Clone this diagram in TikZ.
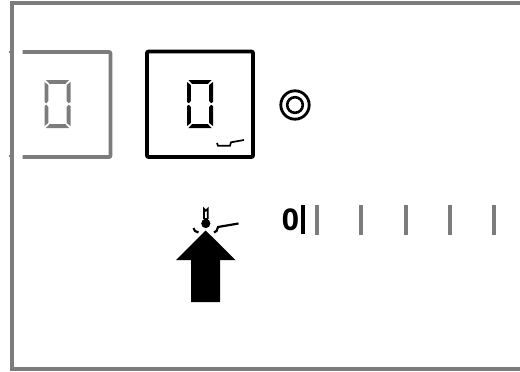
\documentclass[tikz,border=0pt]{standalone}
\usepackage{fontspec}
\setmainfont{Open Sans}
\definecolor{fg}{HTML}{7C7C7C}
\tikzset{
  x=1pt,y=-1pt,
  seg/.style={fill=#1,draw=none},
  framelines/.style={draw=fg,line width=3.6pt},
  tick/.style={draw=fg,line width=3.6pt},
  digitbox/.style={line width=3.6pt,rounded corners=1pt,line join=round},
  pics/sevenzero/.style={code={
    % top and bottom
    \fill[seg=#1] (1.5,0) -- (24.5,0) -- (21,3.8) -- (5,3.8) -- cycle;
    \fill[seg=#1] (1.5,48) -- (24.5,48) -- (21,44.2) -- (5,44.2) -- cycle;
    % left pair
    \fill[seg=#1] (0,2) -- (3.8,5) -- (3.8,21) -- (1.9,23.2) -- (0,22) -- cycle;
    \fill[seg=#1] (0,26) -- (1.9,24.8) -- (3.8,27) -- (3.8,43) -- (0,46) -- cycle;
    % right pair
    \fill[seg=#1] (26,2) -- (22.2,5) -- (22.2,21) -- (24.1,23.2) -- (26,22) -- cycle;
    \fill[seg=#1] (26,26) -- (24.1,24.8) -- (22.2,27) -- (22.2,43) -- (26,46) -- cycle;
  }}
}
\begin{document}
\begin{tikzpicture}
\useasboundingbox (0,0) rectangle (520,372);
\fill[white] (0,0) rectangle (520,372);
% outer frame
\draw[framelines] (520,3.2) -- (12,3.2) -- (12,369) -- (520,369);
\draw[draw=fg,line width=2.4pt] (9,52) -- (12,52) (9,156) -- (12,156);
% gray box
\draw[fg,digitbox] (22.5,52) -- (110.5,52) -- (110.5,157) -- (22.5,157);
\pic at (44.5,80) {sevenzero=fg};
% black box
\draw[black,digitbox] (147,51.5) rectangle (253,157);
\pic at (187,80) {sevenzero=black};
% small symbol in box
\draw[black,line width=1.7pt] (217,143) -- (218,145.7) -- (230,145.7) -- (231,142.3) -- (244,140);
% target ring
\draw[black,line width=2.8pt] (295,105) circle (14.2);
\draw[black,line width=2.6pt] (295,105) circle (7.8);
% thermometer symbol
\draw[black,line width=1.7pt,fill=white] (203.9,219) -- (203.9,208.8) arc[start angle=180,end angle=0,radius=1.9] -- (207.7,219);
\fill[black] (205.8,223.5) circle (4.6);
\fill[black] (203.5,218) rectangle (208.1,222);
\draw[black,line width=2.2pt] (193.5,228) .. controls (193.8,230.5) and (195.5,232) .. (198.5,232.5);
\draw[black,line width=2.2pt] (214,232.5) .. controls (216.5,232) and (217.5,230) .. (218,227) -- (238.5,223.5);
% arrow
\fill[black] (205.7,230.5) -- (235.5,260) -- (220,260) -- (220,302) -- (191,302) -- (191,260) -- (176,260) -- cycle;
% scale
\node[font=\fontsize{30}{30}\selectfont\bfseries,anchor=center,inner sep=0pt] (zero) at (290.5,220) {0};
\draw[black,line width=3.8pt] (303,205.3) -- (303,233.5);
\foreach \x/\n in {317/a,361/b,405.7/c,450/d,494/e}{
  \draw[tick] (\x,205.3) -- (\x,234.5);
}
\end{tikzpicture}
\end{document}
